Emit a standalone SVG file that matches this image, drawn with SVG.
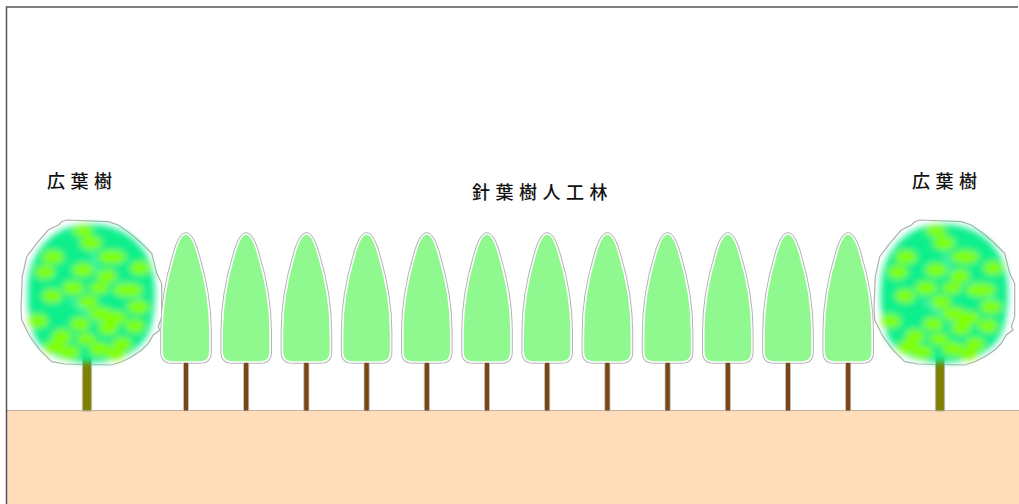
<svg xmlns="http://www.w3.org/2000/svg" xmlns:xlink="http://www.w3.org/1999/xlink" width="1019" height="504" viewBox="0 0 1019 504">
  <style>
    .label { font-family: "Noto Sans CJK JP", "Noto Sans", sans-serif; font-size: 18px; font-weight: 500; letter-spacing: 5.5px; fill: #111; }
    .frame { stroke: #555; stroke-width: 1.5; fill: none; }
    .halo { fill: #fff; stroke: #b0b0b0; stroke-width: 1.2; stroke-linejoin: miter; }
    .cone-edge { fill: none; stroke: #b4b4b4; stroke-width: 3.6; }
    .cone { fill: #8ff88f; stroke: #fff; stroke-width: 1.6; }
    .cone-trunk { fill: #7b4616; stroke: #c8c8c8; stroke-width: 0.8; }
    .leaf-trunk { fill: #808000; stroke: #b8b8a0; stroke-width: 1.2; }
    .blob { fill: #80ff00; }
    .streak { fill: none; stroke: #a8ffe0; stroke-width: 2; stroke-linecap: round; opacity: 0.6; }
  </style>
  <defs>
    <filter id="soft" x="-20%" y="-20%" width="140%" height="140%">
      <feGaussianBlur stdDeviation="3"/>
    </filter>
    <!-- narrow conifer, drawn around x = 0 -->
    <path id="cone-shape" d="M0,234 C5,234 9,244 12,255 C18,275 24,300 24,332 L24,352 Q24,362 14,362 L-14,362 Q-24,362 -24,352 L-24,332 C-24,300 -18,275 -12,255 C-9,244 -5,234 0,234 Z"/>
    <g id="conifer">
      <use xlink:href="#cone-shape" class="cone-edge"/>
      <rect class="cone-trunk" x="-2.6" y="360" width="5.2" height="51"/>
      <use xlink:href="#cone-shape" class="cone"/>
    </g>
    <!-- round broadleaf crown with trunk -->
    <g id="broadleaf">
      <polygon class="halo" points="61.7,221.7 66.7,220 108.3,221.7 118.3,225 130,233.3 140,241.7 151.7,253.3 156.7,273.3 161.7,283.3 161.7,316.7 158.3,326.7 160,330 153.3,335 148.3,343.3 141.7,350 131.7,356.7 121.7,361.7 111.7,365 65,364 51.7,361.7 40,350 30,336.7 21.7,320 21,306.7 22.3,276.7 26.7,256.7 36.7,243.3 48.3,230 58.3,225"/>
      <rect class="leaf-trunk" x="82.5" y="355" width="9" height="56"/>
      <g filter="url(#soft)">
        <path fill="#10ef8c" d="M88,224 C118,224 140,238 150,262 C157,280 156,310 150,330 C143,348 125,360 100,362 C78,364 52,360 40,345 C28,330 26,300 29,275 C33,250 55,224 88,224 Z"/>
        <path class="streak" d="M92,252 L100,280 M70,300 L110,330 M118,282 L140,300"/>
        <ellipse class="blob" cx="83" cy="231" rx="10" ry="6"/>
        <ellipse class="blob" cx="91" cy="243" rx="11" ry="7"/>
        <ellipse class="blob" cx="53" cy="257" rx="11" ry="7"/>
        <ellipse class="blob" cx="112" cy="257" rx="14" ry="7"/>
        <ellipse class="blob" cx="140" cy="268" rx="10" ry="7"/>
        <ellipse class="blob" cx="45" cy="272" rx="10" ry="7"/>
        <ellipse class="blob" cx="83" cy="270" rx="11" ry="7"/>
        <ellipse class="blob" cx="107" cy="276" rx="10" ry="7"/>
        <ellipse class="blob" cx="73" cy="288" rx="11" ry="7"/>
        <ellipse class="blob" cx="52" cy="296" rx="10" ry="7"/>
        <ellipse class="blob" cx="99" cy="288" rx="10" ry="6"/>
        <ellipse class="blob" cx="128" cy="290" rx="15" ry="7"/>
        <ellipse class="blob" cx="138" cy="307" rx="11" ry="7"/>
        <ellipse class="blob" cx="88" cy="302" rx="10" ry="7"/>
        <ellipse class="blob" cx="101" cy="314" rx="12" ry="7"/>
        <ellipse class="blob" cx="116" cy="318" rx="11" ry="7"/>
        <ellipse class="blob" cx="38" cy="321" rx="10" ry="7"/>
        <ellipse class="blob" cx="80" cy="324" rx="10" ry="7"/>
        <ellipse class="blob" cx="108" cy="328" rx="10" ry="7"/>
        <ellipse class="blob" cx="135" cy="326" rx="10" ry="7"/>
        <ellipse class="blob" cx="62" cy="336" rx="10" ry="7"/>
        <ellipse class="blob" cx="86" cy="339" rx="10" ry="6"/>
        <ellipse class="blob" cx="55" cy="347" rx="11" ry="7"/>
        <ellipse class="blob" cx="69" cy="352" rx="11" ry="7"/>
        <ellipse class="blob" cx="100" cy="349" rx="11" ry="7"/>
        <ellipse class="blob" cx="122" cy="344" rx="10" ry="7"/>
        <ellipse class="blob" cx="115" cy="354" rx="10" ry="6"/>
      </g>
    </g>
  </defs>

  <rect width="1019" height="504" fill="#fff"/>

  <!-- soil -->
  <g id="ground">
    <rect x="7" y="410" width="1012" height="94" fill="#ffddba"/>
    <line x1="7" y1="410.5" x2="1019" y2="410.5" stroke="#c6b29a" stroke-width="1.2"/>
  </g>

  <!-- frame -->
  <path class="frame" d="M6.5,504 L6.5,7 L1018,7"/>

  <!-- labels -->
  <g id="labels">
    <text class="label" x="47" y="188">広葉樹</text>
    <text class="label" x="472" y="199">針葉樹人工林</text>
    <text class="label" x="912" y="188">広葉樹</text>
  </g>

  <!-- broadleaf trees at both ends -->
  <g id="broadleaf-left"><use xlink:href="#broadleaf"/></g>
  <g id="broadleaf-right"><use xlink:href="#broadleaf" x="853"/></g>

  <!-- planted conifer row -->
  <g id="conifer-1"><use xlink:href="#conifer" x="186"/></g>
  <g id="conifer-2"><use xlink:href="#conifer" x="246.2"/></g>
  <g id="conifer-3"><use xlink:href="#conifer" x="306.4"/></g>
  <g id="conifer-4"><use xlink:href="#conifer" x="366.6"/></g>
  <g id="conifer-5"><use xlink:href="#conifer" x="426.8"/></g>
  <g id="conifer-6"><use xlink:href="#conifer" x="487"/></g>
  <g id="conifer-7"><use xlink:href="#conifer" x="547.2"/></g>
  <g id="conifer-8"><use xlink:href="#conifer" x="607.4"/></g>
  <g id="conifer-9"><use xlink:href="#conifer" x="667.6"/></g>
  <g id="conifer-10"><use xlink:href="#conifer" x="727.8"/></g>
  <g id="conifer-11"><use xlink:href="#conifer" x="788"/></g>
  <g id="conifer-12"><use xlink:href="#conifer" x="848.2"/></g>
</svg>
